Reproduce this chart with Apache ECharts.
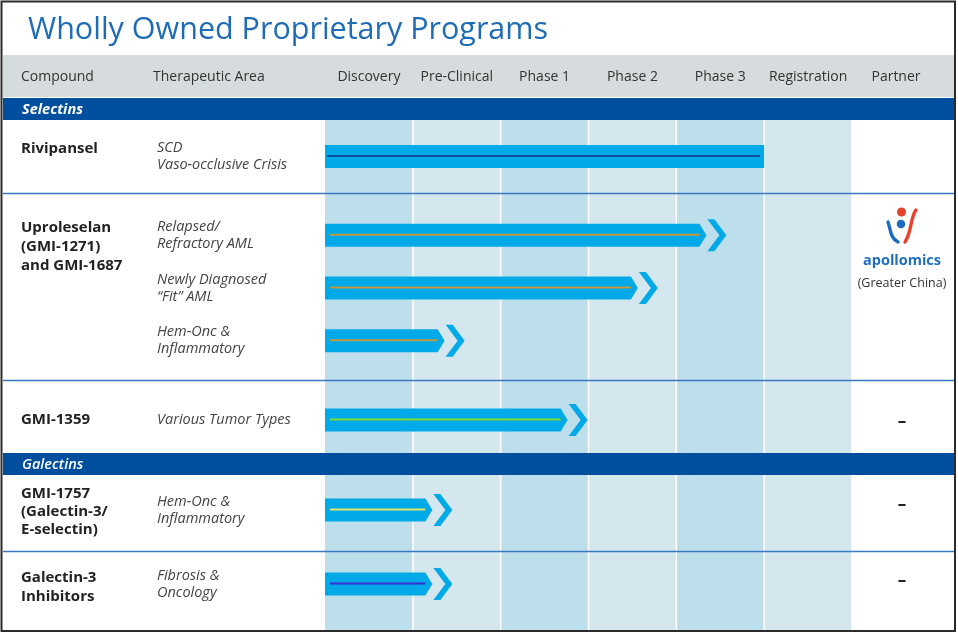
<!DOCTYPE html>
<html><head><meta charset="utf-8">
<script src="https://cdn.jsdelivr.net/npm/echarts@6/dist/echarts.min.js"></script>
<style>html,body{margin:0;padding:0;background:#fff}#c{width:958px;height:635px}</style>
</head><body><div id="c"></div>
<script>
// ---------- data ----------
const title = 'Wholly Owned Proprietary Programs';
const headerLeft = ['Compound', 'Therapeutic Area'];
const phases = ['Discovery', 'Pre-Clinical', 'Phase 1', 'Phase 2', 'Phase 3', 'Registration'];
const partnerHeader = 'Partner';
const sections = ['Selectins', 'Galectins'];
const compounds = ['Rivipansel', 'Uproleselan\n(GMI-1271)\nand GMI-1687', 'GMI-1359', 'GMI-1757\n(Galectin-3/\nE-selectin)', 'Galectin-3\nInhibitors'];
const indications = [
  ['SCD\nVaso-occlusive Crisis'],
  ['Relapsed/\nRefractory AML', 'Newly Diagnosed\n\u201CFit\u201D AML', 'Hem-Onc &\nInflammatory'],
  ['Various Tumor Types'],
  ['Hem-Onc &\nInflammatory'],
  ['Fibrosis &\nOncology']
];
// progress measured in phase units (0 = start of Discovery, 6 = end of Registration)
const progress = [[5.0], [4.57, 3.79, 1.59], [2.99], [1.45], [1.45]];
const hasArrow = [[false], [true, true, true], [true], [true], [true]];
const partners = ['', 'apollomics', '\u2013', '\u2013', '\u2013'];
const partnerNotes = ['', '(Greater China)', '', '', ''];

// ---------- layout / style ----------
const FONT = 'Open Sans';
const PH_LEFT = 325, PH_W = 527;
const rowGrids = [
  {top: 120, height: 73}, {top: 209, height: 158}, {top: 384, height: 72},
  {top: 472, height: 76}, {top: 548, height: 72}
];
const compoundTop = [139, 218.5, 410.5, 484.5, 568.5];
const compoundLH = [19, 19, 19, 18, 19];
const partnerY = [0, 261, 422, 505, 581];
const lineColors = [['#0b4f98'], ['#c39a3e', '#c39a3e', '#c39a3e'], ['#7cdb3a'], ['#dbe86b'], ['#3b2fd6']];
const sectionBands = [{y: 98, h: 22}, {y: 453, h: 22}];
const separators = [193.5, 380.5, 551.5];
const BAR = '#00a9e7';

const chart = echarts.init(document.getElementById('c'));

const grids = [], xAxes = [], yAxes = [], series = [];
// background phase grid (index 0)
grids.push({left: PH_LEFT, width: PH_W, top: 120, height: 510});
xAxes.push({
  gridIndex: 0, type: 'category', data: phases, position: 'top', offset: 42.5, z: 50,
  axisLine: {show: false}, axisTick: {show: false}, splitLine: {show: false},
  axisLabel: {interval: 0, margin: 0, verticalAlign: 'middle', color: '#333', fontSize: 14, fontFamily: FONT}
});
yAxes.push({gridIndex: 0, type: 'value', min: 0, max: 1, show: false});
series.push({
  type: 'custom', xAxisIndex: 0, yAxisIndex: 0, silent: true, z: 1,
  data: phases.map((p, i) => [i, 1]),
  encode: {x: 0, y: 1},
  renderItem: (params, api) => {
    const c = api.coord([api.value(0), 1]);
    const b = api.coord([api.value(0), 0]);
    const w = api.size([1, 0])[0];
    const even = api.value(0) % 2 === 0;
    return {type: 'rect', shape: {x: c[0] - w / 2 + (api.value(0) > 0 ? 0.75 : 0), y: c[1], width: w - (api.value(0) > 0 ? 1.5 : 0.75), height: b[1] - c[1]},
      style: {fill: even ? '#bddfeb' : '#d4e7ee'}};
  }
});

function renderBar(params, api) {
  const lane = api.value(0), end = api.value(1), arrow = api.value(2);
  const g = api.value(3), j = api.value(4);
  const s = api.coord([0, lane]);
  const e = api.coord([end, lane]);
  const x0 = s[0], yc = s[1], xt = e[0], h = 11.5;
  const lc = lineColors[g][j];
  const children = [];
  if (arrow) {
    children.push({type: 'polygon', shape: {points: [[x0, yc - h], [xt - 27, yc - h], [xt - 20, yc], [xt - 27, yc + h], [x0, yc + h]]}, style: {fill: BAR}});
    children.push({type: 'polygon', shape: {points: [[xt - 19, yc - 16], [xt - 12, yc - 16], [xt, yc], [xt - 12, yc + 16], [xt - 19, yc + 16], [xt - 7, yc]]}, style: {fill: BAR}});
    children.push({type: 'line', shape: {x1: x0 + 5, y1: yc - 0.5, x2: xt - 27, y2: yc - 0.5}, style: {stroke: lc, lineWidth: 2}});
  } else {
    children.push({type: 'rect', shape: {x: x0, y: yc - h, width: xt - x0, height: 2 * h}, style: {fill: BAR}});
    children.push({type: 'line', shape: {x1: x0 + 2, y1: yc - 0.5, x2: xt - 4, y2: yc - 0.5}, style: {stroke: lc, lineWidth: 2}});
  }
  return {type: 'group', children};
}

rowGrids.forEach((rg, g) => {
  const gi = g + 1;
  grids.push({left: PH_LEFT, width: PH_W, top: rg.top, height: rg.height});
  xAxes.push({gridIndex: gi, type: 'value', min: 0, max: 6, show: false});
  yAxes.push({
    gridIndex: gi, type: 'category', inverse: true, data: indications[g],
    axisLine: {show: false}, axisTick: {show: false}, splitLine: {show: false},
    axisLabel: {interval: 0, align: 'left', margin: 168, fontStyle: 'italic', fontSize: 14.5, lineHeight: 17, color: '#444', fontFamily: FONT}
  });
  series.push({
    type: 'custom', xAxisIndex: gi, yAxisIndex: gi, z: 5, silent: true,
    data: progress[g].map((v, j) => [j, v, hasArrow[g][j] ? 1 : 0, g, j]),
    encode: {x: 1, y: 0},
    renderItem: renderBar
  });
});

// ---------- graphic (table frame, text) ----------
const gr = [];
gr.push({type: 'text', z: 20, style: {text: title, x: 28, y: 30, textVerticalAlign: 'middle', fill: '#1f6cb6', fontSize: 30.5, fontFamily: FONT}});
gr.push({type: 'rect', z: 10, shape: {x: 3, y: 55, width: 951, height: 42}, style: {fill: '#d6dbdd'}});
headerLeft.forEach((t, i) => gr.push({type: 'text', z: 20, style: {text: t, x: [21, 153][i], y: 77.5, textVerticalAlign: 'middle', fill: '#333', fontSize: 14, fontFamily: FONT}}));
gr.push({type: 'text', z: 20, style: {text: partnerHeader, x: 896, y: 77.5, textAlign: 'center', textVerticalAlign: 'middle', fill: '#333', fontSize: 14, fontFamily: FONT}});
sections.forEach((s, i) => {
  const b = sectionBands[i];
  gr.push({type: 'rect', z: 10, shape: {x: 3, y: b.y, width: 951, height: b.h}, style: {fill: '#004f9e'}});
  gr.push({type: 'text', z: 20, style: {text: s, x: 22, y: b.y + b.h / 2 + 0.5, textVerticalAlign: 'middle', fill: '#fff', fontSize: 14.5, fontStyle: 'italic', fontWeight: i === 0 ? 'bold' : 600, fontFamily: FONT}});
});
separators.forEach(y => gr.push({type: 'line', z: 10, shape: {x1: 3, y1: y, x2: 954, y2: y}, style: {stroke: '#3a77c2', lineWidth: 1.5}}));
compounds.forEach((c, i) => gr.push({type: 'text', z: 20, style: {text: c, x: 21, y: compoundTop[i], textVerticalAlign: 'top', fill: '#222', fontSize: 15, fontWeight: 'bold', lineHeight: compoundLH[i], fontFamily: FONT}}));
partners.forEach((p, i) => {
  if (!p) return;
  if (p === 'apollomics') {
    gr.push({type: 'circle', z: 20, shape: {cx: 901.5, cy: 212, r: 4.5}, style: {fill: '#e5432e'}});
    gr.push({type: 'circle', z: 20, shape: {cx: 901, cy: 224, r: 4.3}, style: {fill: '#1b6cc0'}});
    gr.push({type: 'bezierCurve', z: 20, shape: {x1: 888, y1: 222, cpx1: 891, cpy1: 230, cpx2: 890, cpy2: 238, x2: 898, y2: 242}, style: {stroke: '#1b6cc0', lineWidth: 3.4, fill: null, lineCap: 'round'}});
    gr.push({type: 'bezierCurve', z: 20, shape: {x1: 916, y1: 210, cpx1: 910, cpy1: 218, cpx2: 912, cpy2: 232, x2: 905, y2: 242}, style: {stroke: '#e5432e', lineWidth: 3.4, fill: null, lineCap: 'round'}});
    gr.push({type: 'text', z: 20, style: {text: p, x: 902, y: partnerY[i], textAlign: 'center', textVerticalAlign: 'middle', fill: '#1f6fc0', fontSize: 14.5, fontWeight: 'bold', fontFamily: FONT}});
    gr.push({type: 'text', z: 20, style: {text: partnerNotes[i], x: 902, y: 283, textAlign: 'center', textVerticalAlign: 'middle', fill: '#333', fontSize: 12.5, fontFamily: FONT}});
  } else {
    gr.push({type: 'text', z: 20, style: {text: p, x: 902, y: partnerY[i], textAlign: 'center', textVerticalAlign: 'middle', fill: '#222', fontSize: 17, fontWeight: 'bold', fontFamily: FONT}});
  }
});
gr.push({type: 'rect', z: 30, shape: {x: 1.5, y: 1.5, width: 953.5, height: 629.5}, style: {fill: null, stroke: '#2b2b2b', lineWidth: 2}});

chart.setOption({
  animation: false,
  backgroundColor: '#fff',
  grid: grids, xAxis: xAxes, yAxis: yAxes, series: series,
  graphic: {elements: gr}
});
</script></body></html>
